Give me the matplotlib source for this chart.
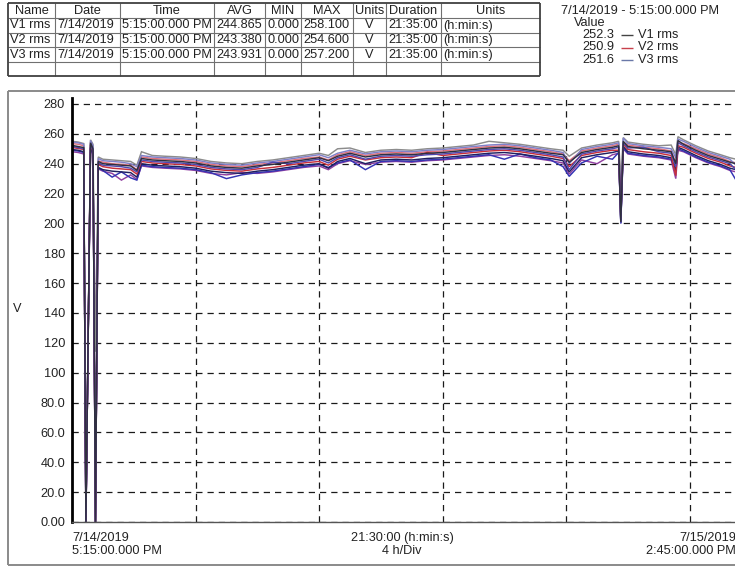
import matplotlib
matplotlib.use("Agg")
import matplotlib.pyplot as plt
from matplotlib.lines import Line2D

plt.rcParams['font.family'] = ['Liberation Sans', 'DejaVu Sans']

# ---------------- summary table ----------------
table_header = ["Name", "Date", "Time", "AVG", "MIN", "MAX", "Units", "Duration", "Units"]
names = ["V1 rms", "V2 rms", "V3 rms"]
dates = ["7/14/2019", "7/14/2019", "7/14/2019"]
times = ["5:15:00.000 PM", "5:15:00.000 PM", "5:15:00.000 PM"]
avgs = ["244.865", "243.380", "243.931"]
mins = ["0.000", "0.000", "0.000"]
maxs = ["258.100", "254.600", "257.200"]
units = ["V", "V", "V"]
durations = ["21:35:00", "21:35:00", "21:35:00"]
duration_units = ["(h:min:s)", "(h:min:s)", "(h:min:s)"]

# ---------------- cursor readout ----------------
cursor_label = "7/14/2019 - 5:15:00.000 PM"
cursor_values = ["252.3", "250.9", "251.6"]
series_names = ["V1 rms", "V2 rms", "V3 rms"]

# ---------------- trend data (hours after 5:15 PM) ----------------
hours = [0.0, 0.2, 0.38, 0.45, 0.6, 0.68, 0.76, 0.85, 1.0, 1.3, 1.6, 1.9, 2.1, 2.25,
         2.6, 3.0, 3.5, 4.0, 4.5, 5.0, 5.5, 6.0, 6.5, 7.0, 7.5, 8.0, 8.3, 8.6, 9.0,
         9.5, 10.0, 10.5, 11.0, 11.5, 12.0, 12.5, 13.0, 13.5, 14.0, 14.5, 15.0, 15.5,
         15.9, 16.1, 16.5, 17.0, 17.5, 17.7, 17.77, 17.85, 18.0, 18.5, 19.0, 19.4,
         19.55, 19.62, 19.8, 20.2, 20.6, 21.0, 21.3, 21.5]

v1_avg = [252.3, 251.5, 250.8, 0.0, 254.0, 250.0, 0.0, 241.5, 240.0, 239.5, 239.0, 238.5,
          235.5, 243.5, 242.5, 242.0, 241.5, 240.5, 238.5, 237.5, 237.0, 238.5, 239.5,
          241.0, 242.5, 244.0, 242.0, 245.0, 247.0, 244.5, 246.0, 246.5, 246.0, 247.0,
          247.5, 248.5, 249.5, 250.5, 251.0, 250.0, 248.5, 247.0, 246.0, 241.0, 247.5,
          249.5, 251.0, 252.0, 201.0, 255.0, 251.5, 250.0, 249.0, 248.0, 240.0, 255.5,
          253.0, 249.0, 245.5, 243.0, 241.0, 240.0]
v1_max = [255.0, 254.5, 253.5, 0.0, 256.0, 253.0, 114.0, 244.5, 243.0, 242.5, 242.0, 241.5,
          239.0, 248.0, 245.5, 245.0, 244.5, 243.5, 241.5, 240.5, 240.0, 241.5, 242.5,
          244.0, 245.5, 247.0, 245.5, 250.0, 250.5, 247.5, 249.0, 249.5, 249.0, 250.0,
          250.5, 251.5, 252.5, 255.0, 254.0, 253.0, 251.5, 250.0, 249.0, 245.0, 250.5,
          252.5, 254.0, 255.0, 230.0, 257.5, 254.5, 253.0, 252.0, 252.5, 246.0, 258.1,
          256.0, 252.0, 248.5, 246.0, 244.0, 243.0]
v1_min = [249.5, 249.0, 248.0, 0.0, 251.0, 247.0, 0.0, 237.5, 236.0, 235.0, 234.5, 234.0,
          231.0, 240.0, 239.0, 238.5, 238.0, 237.0, 235.0, 234.0, 233.5, 235.0, 236.0,
          237.5, 239.0, 240.0, 237.0, 241.5, 243.5, 240.0, 242.5, 243.0, 242.5, 243.5,
          244.0, 245.0, 246.0, 247.0, 247.5, 246.5, 245.0, 243.5, 242.0, 234.5, 244.0,
          246.0, 247.5, 248.5, 200.5, 251.5, 248.0, 246.5, 245.5, 244.0, 235.0, 251.0,
          249.5, 245.5, 242.0, 239.5, 237.0, 236.0]

v2_avg = [250.9, 250.2, 249.5, 0.0, 252.5, 248.5, 0.0, 239.5, 238.0, 237.0, 236.5, 236.0,
          233.0, 241.5, 240.5, 240.0, 239.5, 238.5, 236.5, 235.5, 235.0, 236.5, 237.5,
          239.0, 240.5, 241.5, 239.0, 243.0, 245.0, 242.5, 244.0, 244.5, 244.0, 247.5,
          245.5, 246.5, 247.5, 248.5, 249.0, 248.0, 246.5, 245.0, 243.5, 238.0, 245.5,
          247.5, 249.0, 249.0, 203.0, 253.0, 249.5, 248.0, 247.0, 245.5, 232.0, 252.0,
          251.0, 247.0, 243.5, 241.0, 238.5, 237.5]
v2_max = [253.5, 253.0, 252.0, 0.0, 254.6, 251.0, 0.0, 242.0, 241.0, 240.0, 239.5, 239.0,
          236.0, 244.5, 243.5, 243.0, 242.5, 241.5, 239.5, 238.5, 238.0, 239.5, 240.5,
          242.0, 243.5, 244.5, 242.5, 246.0, 248.0, 245.5, 247.0, 247.5, 247.0, 248.0,
          248.5, 249.5, 250.5, 251.5, 252.0, 251.0, 249.5, 248.0, 246.5, 242.0, 248.5,
          250.5, 252.0, 253.0, 220.0, 254.5, 252.5, 251.0, 250.0, 248.5, 240.0, 254.0,
          253.5, 250.0, 246.5, 244.0, 241.5, 240.5]
v2_min = [248.0, 247.5, 246.5, 0.0, 250.0, 246.0, 0.0, 236.5, 235.0, 233.5, 229.0, 232.5,
          229.5, 238.5, 237.5, 237.0, 236.5, 235.5, 233.5, 232.5, 234.0, 233.5, 234.5,
          236.0, 237.5, 238.5, 236.0, 240.0, 242.0, 239.5, 241.0, 241.5, 241.0, 242.0,
          242.5, 243.5, 244.5, 245.5, 246.0, 245.0, 243.5, 242.0, 240.5, 233.0, 242.5,
          240.0, 246.0, 247.0, 201.5, 250.0, 246.5, 245.0, 244.0, 242.5, 230.0, 249.0,
          248.0, 244.0, 240.5, 238.0, 235.5, 234.5]

v3_avg = [251.6, 250.8, 250.0, 0.0, 253.0, 249.0, 0.0, 240.5, 239.0, 238.5, 238.0, 237.0,
          234.5, 242.5, 241.5, 241.0, 240.5, 239.5, 237.5, 236.5, 236.0, 237.5, 241.0,
          240.0, 241.5, 243.0, 240.5, 244.0, 246.0, 243.0, 245.0, 245.5, 245.0, 246.0,
          246.5, 247.5, 248.5, 249.5, 250.0, 249.0, 247.5, 246.0, 244.5, 236.0, 246.5,
          248.5, 250.0, 251.0, 200.0, 254.0, 250.5, 251.0, 248.0, 247.0, 238.0, 254.0,
          252.0, 248.0, 244.5, 242.0, 240.0, 236.0]
v3_max = [254.5, 254.0, 253.0, 0.0, 255.5, 252.0, 0.0, 243.5, 242.0, 241.5, 241.0, 240.0,
          238.0, 245.5, 244.5, 244.0, 243.5, 242.5, 240.5, 239.5, 239.0, 240.5, 241.5,
          243.0, 244.5, 246.0, 244.0, 247.0, 249.0, 246.5, 248.0, 248.5, 248.0, 249.0,
          249.5, 250.5, 251.5, 252.5, 253.0, 252.0, 250.5, 249.0, 247.5, 240.0, 249.5,
          251.5, 253.0, 254.0, 210.0, 257.2, 253.5, 252.0, 251.0, 250.0, 244.0, 256.5,
          255.0, 251.0, 247.5, 245.0, 243.0, 239.0]
v3_min = [249.0, 248.5, 247.5, 0.0, 250.5, 246.5, 0.0, 237.0, 235.5, 231.0, 234.5, 230.5,
          229.0, 239.0, 238.0, 237.5, 237.0, 236.0, 234.0, 230.0, 232.5, 234.0, 235.0,
          236.5, 238.0, 239.5, 237.5, 240.5, 242.5, 236.0, 241.5, 242.0, 241.5, 242.5,
          243.0, 244.0, 245.0, 246.0, 243.0, 246.5, 244.0, 242.5, 238.0, 231.5, 240.5,
          245.0, 243.0, 247.5, 200.0, 250.5, 247.0, 245.5, 244.5, 243.0, 236.0, 250.0,
          248.5, 244.5, 241.0, 238.5, 236.0, 229.0]

y_ticks = [0, 20, 40, 60, 80, 100, 120, 140, 160, 180, 200, 220, 240, 260, 280]
y_tick_labels = ["0.00", "20.0", "40.0", "60.0", "80.0", "100", "120", "140", "160",
                 "180", "200", "220", "240", "260", "280"]
x_divisions = [4, 8, 12, 16, 20]
span_hours = 21.5

# ---------------- figure helpers (pixel layout) ----------------
W, H = 735, 569
fig = plt.figure(figsize=(W / 100, H / 100), dpi=100)
fig.patch.set_facecolor("white")


def fx(x):
    return x / W


def fy(y):
    return 1 - y / H


def hline(x0, x1, y, color, lw):
    fig.add_artist(Line2D([fx(x0), fx(x1)], [fy(y), fy(y)], transform=fig.transFigure,
                          color=color, lw=lw, solid_capstyle="butt"))


def vline(x, y0, y1, color, lw):
    fig.add_artist(Line2D([fx(x), fx(x)], [fy(y0), fy(y1)], transform=fig.transFigure,
                          color=color, lw=lw, solid_capstyle="butt"))


FS = 9.2
TXT = "#222222"

# ---------------- table ----------------
col_edges = [8, 55, 120, 214, 265, 301, 353, 386, 441, 540]
row_edges = [3, 17.5, 32.5, 47, 61.5, 76]
for y in row_edges[1:-1]:
    hline(col_edges[0], col_edges[-1], y, "#707070", 0.8)
for x in col_edges[1:-1]:
    vline(x, row_edges[0], row_edges[-1], "#707070", 0.8)
hline(col_edges[0], col_edges[-1], row_edges[0], "#404040", 1.3)
hline(col_edges[0], col_edges[-1], row_edges[-1], "#404040", 1.3)
vline(col_edges[0], row_edges[0], row_edges[-1], "#404040", 1.3)
vline(col_edges[-1], row_edges[0], row_edges[-1], "#404040", 1.3)

for i, h in enumerate(table_header):
    cx = (col_edges[i] + col_edges[i + 1]) / 2
    fig.text(fx(cx), fy((row_edges[0] + row_edges[1]) / 2 + 0.5), h, ha="center",
             va="center", fontsize=FS, color=TXT)

columns = [names, dates, times, avgs, mins, maxs, units, durations, duration_units]
for r in range(3):
    yc = (row_edges[r + 1] + row_edges[r + 2]) / 2 + 0.5
    for c, col in enumerate(columns):
        if c == 6:
            cx = (col_edges[c] + col_edges[c + 1]) / 2
            fig.text(fx(cx), fy(yc), col[r], ha="center", va="center", fontsize=FS, color=TXT)
        else:
            fig.text(fx(col_edges[c] + 2), fy(yc), col[r], ha="left", va="center",
                     fontsize=FS, color=TXT)

# ---------------- cursor readout ----------------
fig.text(fx(561), fy(11), cursor_label, ha="left", va="center", fontsize=FS, color=TXT)
fig.text(fx(574), fy(23.5), "Value", ha="left", va="center", fontsize=FS, color=TXT)
legend_colors = ["#444444", "#c8404c", "#6a78a8"]
for i, (val, nm, colr) in enumerate(zip(cursor_values, series_names, legend_colors)):
    yy = 35 + i * 12.5
    fig.text(fx(614), fy(yy), val, ha="right", va="center", fontsize=FS, color=TXT)
    hline(621, 633, yy, colr, 1.0)
    fig.text(fx(638), fy(yy), nm, ha="left", va="center", fontsize=FS, color=TXT)

# ---------------- outer chart frame ----------------
hline(8, 736, 91, "#8a8a8a", 1.4)
hline(8, 736, 565, "#8a8a8a", 1.4)
vline(8, 91, 565, "#8a8a8a", 1.4)

# ---------------- trend axes ----------------
ax = fig.add_axes([fx(72), fy(522), (736 - 72) / W, (522 - 98) / H])
ax.set_xlim(0, span_hours)
ax.set_ylim(0, 284)
ax.set_yticks(y_ticks)
ax.set_yticklabels(y_tick_labels, fontsize=FS, color=TXT)
ax.set_xticks(x_divisions)
ax.set_xticklabels([])
ax.tick_params(length=0, pad=5)
ax.grid(True, color="#1a1a1a", linestyle=(0, (5, 4)), lw=0.9)
ax.set_axisbelow(True)
ax.spines["left"].set_color("#000000")
ax.spines["left"].set_linewidth(2.0)
ax.spines["bottom"].set_color("#555555")
ax.spines["bottom"].set_linewidth(1.0)
ax.spines["top"].set_visible(False)
ax.spines["right"].set_visible(False)

traces = [
    (v2_max, "#e0707c"),
    (v1_max, "#8c8c8c"),
    (v3_max, "#8080c8"),
    (v2_min, "#9040a0"),
    (v3_min, "#3434b4"),
    (v1_min, "#202060"),
    (v2_avg, "#c8303c"),
    (v3_avg, "#5048b0"),
    (v1_avg, "#303040"),
]
for vals, colr in traces:
    ax.plot(hours, vals, color=colr, lw=1.05, solid_joinstyle="miter")

fig.text(fx(13), fy(309), "V", ha="left", va="center", fontsize=FS, color=TXT)

# ---------------- time axis captions ----------------
fig.text(fx(72), fy(538), "7/14/2019", ha="left", va="center", fontsize=FS, color=TXT)
fig.text(fx(72), fy(551), "5:15:00.000 PM", ha="left", va="center", fontsize=FS, color=TXT)
fig.text(fx(402), fy(538), "21:30:00 (h:min:s)", ha="center", va="center", fontsize=FS, color=TXT)
fig.text(fx(402), fy(551), "4 h/Div", ha="center", va="center", fontsize=FS, color=TXT)
fig.text(fx(736), fy(538), "7/15/2019", ha="right", va="center", fontsize=FS, color=TXT)
fig.text(fx(736), fy(551), "2:45:00.000 PM", ha="right", va="center", fontsize=FS, color=TXT)

fig.savefig("out.png", dpi=100)
